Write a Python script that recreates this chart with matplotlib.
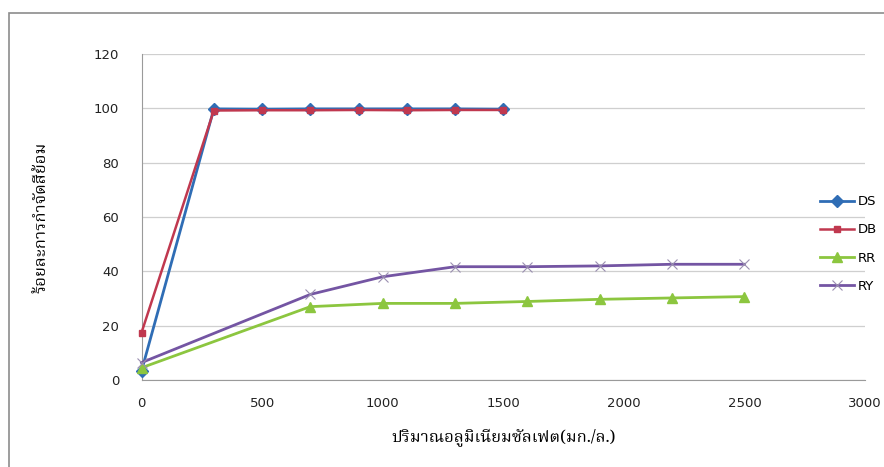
import matplotlib
matplotlib.use("Agg")
import matplotlib.pyplot as plt
from matplotlib import font_manager
from matplotlib.ft2font import FT2Font
from matplotlib.patches import Rectangle

# data
dose_d = [0, 300, 500, 700, 900, 1100, 1300, 1500]
ds = [3.3, 99.8, 99.7, 99.8, 99.8, 99.8, 99.8, 99.7]
db = [17.4, 99.2, 99.3, 99.3, 99.4, 99.3, 99.4, 99.4]

dose_r = [0, 700, 1000, 1300, 1600, 1900, 2200, 2500]
rr = [4.5, 27.0, 28.2, 28.2, 28.9, 29.7, 30.2, 30.7]
ry = [6.4, 31.5, 38.0, 41.7, 41.7, 42.0, 42.6, 42.6]

x_ticks = [0, 500, 1000, 1500, 2000, 2500, 3000]
y_ticks = [0, 20, 40, 60, 80, 100, 120]

x_label = "ปริมาณอลูมิเนียมซัลเฟต(มก./ล.)"
y_label = "ร้อยละการกำจัดสีย้อม"


def find_thai_font():
    prefer = ["Norasi", "Kinnari", "TH Sarabun New", "Noto Serif Thai",
              "Garuda", "Loma", "Noto Sans Thai", "Tlwg Typo"]
    found = {}
    for f in font_manager.fontManager.ttflist:
        try:
            if 0x0E01 in FT2Font(f.fname).get_charmap():
                found.setdefault(f.name, f.fname)
        except Exception:
            pass
    for name in prefer:
        if name in found:
            return name
    return next(iter(found), "DejaVu Sans")


thai = find_thai_font()

fig = plt.figure(figsize=(8.84, 4.67), dpi=100)
fig.patch.set_facecolor("white")
W, H = 884, 467

# chart-area border (runs off right and bottom edge in the scan)
fig.patches.append(Rectangle((9 / W, -0.1), 1.2, 1 - 13 / H + 0.1,
                             transform=fig.transFigure, fill=False,
                             ec="#8c8c8c", lw=1.2))

ax = fig.add_axes([141.5 / W, 1 - 380 / H, (865 - 141.5) / W, (380 - 54) / H])

ax.plot(dose_d, ds, color="#2f6db5", marker="D", ms=6, lw=2, label="DS",
        zorder=4, clip_on=False)
ax.plot(dose_d, db, color="#c0384f", marker="s", ms=5, lw=1.8, label="DB",
        zorder=5, clip_on=False)
ax.plot(dose_r, rr, color="#8cc63f", marker="^", ms=6.5, lw=2, label="RR",
        zorder=4, clip_on=False)
ax.plot(dose_r, ry, color="#7455a3", marker="x", ms=7, mew=0.8, mec="#9a8fb0",
        lw=2, label="RY", zorder=4, clip_on=False)

ax.set_xlim(0, 3000)
ax.set_ylim(0, 120)
ax.set_xticks(x_ticks)
ax.set_yticks(y_ticks)
ax.tick_params(axis="both", length=0, labelsize=9.5, colors="#222222")
ax.tick_params(axis="x", pad=12)
ax.tick_params(axis="y", pad=16)
ax.grid(axis="y", color="#cfcfcf", lw=0.9)
for s in ["top", "right"]:
    ax.spines[s].set_visible(False)
ax.spines["left"].set_color("#9a9a9a")
ax.spines["bottom"].set_color("#9a9a9a")

ax.set_xlabel(x_label, fontsize=12, family=[thai, "DejaVu Sans"], labelpad=14)
fig.text(41 / W, 1 - 217 / H, y_label, rotation=90, ha="center", va="center",
         fontsize=12, family=[thai, "DejaVu Sans"])

fig.legend(loc="center left", bbox_to_anchor=(808 / W, 1 - 244 / H),
           frameon=False, fontsize=9.5, handlelength=2.6, labelspacing=1.15,
           handletextpad=0.3)

fig.savefig("out.png", dpi=100, facecolor="white")
